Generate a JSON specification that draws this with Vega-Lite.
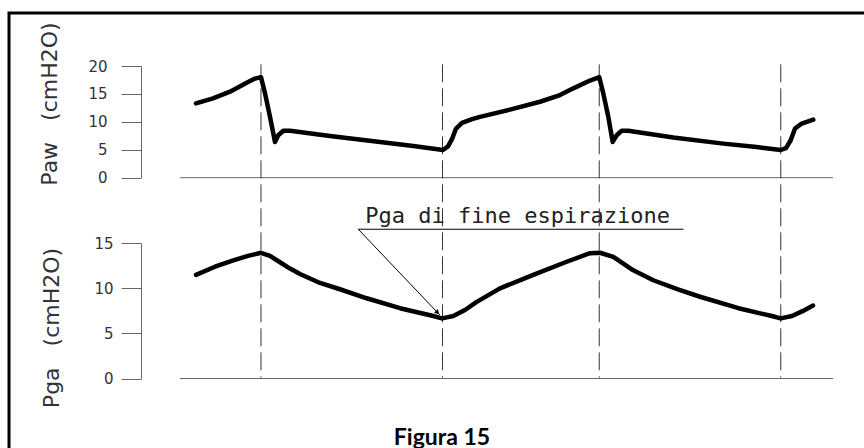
{
  "$schema": "https://vega.github.io/schema/vega-lite/v6.json",
  "width": 876,
  "height": 456,
  "autosize": {"type": "none"},
  "padding": {"left": 9, "top": 13, "right": -21, "bottom": -21},
  "background": "white",
  "config": {
    "view": {"stroke": "black", "strokeWidth": 3},
    "axisX": {"disable": true}
  },
  "title": {
    "text": "Figura 15",
    "orient": "bottom",
    "anchor": "middle",
    "offset": -24,
    "baseline": "alphabetic",
    "dx": -5,
    "font": "Lato",
    "fontWeight": "bold",
    "fontSize": 23,
    "color": "black"
  },
  "datasets": {
    "paw": [
      {"t": 2.45, "paw": 13.3}, {"t": 5.05, "paw": 14.2}, {"t": 7.66, "paw": 15.4},
      {"t": 10.21, "paw": 17.0}, {"t": 11.49, "paw": 17.75}, {"t": 12.4, "paw": 18.0},
      {"t": 13.02, "paw": 15.1}, {"t": 13.78, "paw": 10.9}, {"t": 14.55, "paw": 6.4},
      {"t": 15.05, "paw": 7.6}, {"t": 15.82, "paw": 8.4}, {"t": 16.85, "paw": 8.4},
      {"t": 22.97, "paw": 7.45}, {"t": 30.63, "paw": 6.4}, {"t": 35.73, "paw": 5.66},
      {"t": 40.28, "paw": 4.96}, {"t": 41.04, "paw": 5.6}, {"t": 41.65, "paw": 6.9},
      {"t": 42.27, "paw": 8.8}, {"t": 43.19, "paw": 9.8}, {"t": 44.72, "paw": 10.5},
      {"t": 45.94, "paw": 10.9}, {"t": 50.54, "paw": 12.2}, {"t": 55.13, "paw": 13.6},
      {"t": 58.19, "paw": 14.8}, {"t": 60.23, "paw": 16.0}, {"t": 62.79, "paw": 17.4},
      {"t": 64.21, "paw": 18.0}, {"t": 64.82, "paw": 15.1}, {"t": 65.59, "paw": 10.9},
      {"t": 66.26, "paw": 6.4}, {"t": 66.88, "paw": 7.6}, {"t": 67.64, "paw": 8.4},
      {"t": 68.65, "paw": 8.4}, {"t": 75.54, "paw": 7.2}, {"t": 83.2, "paw": 6.1},
      {"t": 88.31, "paw": 5.5}, {"t": 91.99, "paw": 4.96}, {"t": 92.8, "paw": 5.3},
      {"t": 93.52, "paw": 6.7}, {"t": 94.18, "paw": 8.8}, {"t": 95.21, "paw": 9.7},
      {"t": 96.98, "paw": 10.4}
    ],
    "pga": [
      {"t": 2.45, "pga": 11.5}, {"t": 5.36, "pga": 12.4}, {"t": 8.16, "pga": 13.1},
      {"t": 10.41, "pga": 13.6}, {"t": 12.4, "pga": 13.95}, {"t": 13.78, "pga": 13.6},
      {"t": 15.31, "pga": 12.9}, {"t": 16.85, "pga": 12.2}, {"t": 18.38, "pga": 11.6},
      {"t": 21.44, "pga": 10.6}, {"t": 24.5, "pga": 9.9}, {"t": 28.59, "pga": 8.9},
      {"t": 33.69, "pga": 7.8}, {"t": 38.79, "pga": 6.93}, {"t": 40.12, "pga": 6.67},
      {"t": 41.85, "pga": 6.93}, {"t": 43.64, "pga": 7.6}, {"t": 45.44, "pga": 8.5},
      {"t": 49.0, "pga": 10.0}, {"t": 54.1, "pga": 11.5}, {"t": 59.22, "pga": 12.95},
      {"t": 62.79, "pga": 13.9}, {"t": 64.32, "pga": 13.95}, {"t": 66.36, "pga": 13.5},
      {"t": 69.42, "pga": 12.0}, {"t": 72.48, "pga": 10.9}, {"t": 76.26, "pga": 9.9},
      {"t": 79.63, "pga": 9.07}, {"t": 85.53, "pga": 7.8}, {"t": 90.63, "pga": 6.93},
      {"t": 91.99, "pga": 6.67}, {"t": 93.72, "pga": 6.93}, {"t": 95.41, "pga": 7.5},
      {"t": 96.94, "pga": 8.1}
    ],
    "events": [{"t": 12.4}, {"t": 40.2}, {"t": 64.2}, {"t": 92.0}],
    "baseline": [{"t0": 0, "t1": 100, "v": 0}],
    "note": [
      {"t0": 27.3, "t1": 77.1, "y": 16.56, "tx": 39.8, "ty": 7.04, "ax": 39.36, "ay": 7.38,
       "label": "Pga di fine espirazione", "lx": 51.7, "ly": 17.3}
    ]
  },
  "layer": [
    {
      "layer": [
        {
          "data": {"name": "baseline"},
          "mark": {"type": "rule", "color": "#666", "strokeWidth": 1},
          "encoding": {
            "x": {"field": "t0", "type": "quantitative", "scale": {"domain": [0, 100], "range": [171, 824]}, "axis": null},
            "x2": {"field": "t1"},
            "y": {"field": "v", "type": "quantitative"}
          }
        },
        {
          "data": {"name": "events"},
          "mark": {"type": "rule", "color": "#333", "strokeWidth": 1, "strokeDash": [18, 6]},
          "encoding": {
            "x": {"field": "t", "type": "quantitative", "axis": null},
            "y": {"datum": 20.3},
            "y2": {"datum": -35.8}
          }
        },
        {
          "data": {"name": "paw"},
          "mark": {"type": "line", "color": "black", "strokeWidth": 4.5, "strokeCap": "round", "strokeJoin": "round"},
          "encoding": {
            "x": {"field": "t", "type": "quantitative", "axis": null},
            "y": {
              "field": "paw", "type": "quantitative",
              "scale": {"domain": [0, 20], "range": [164.7, 53], "nice": false, "zero": false},
              "axis": {
                "orient": "left", "offset": -132, "values": [0, 5, 10, 15, 20], "grid": false,
                "domainColor": "#666", "tickColor": "#666", "tickSize": 20, "labelPadding": 14,
                "labelFont": "DejaVu Sans", "labelFontSize": 15, "labelColor": "#333",
                "title": "Paw\u00a0\u00a0\u00a0(cmH2O)", "titleFont": "DejaVu Sans", "titleFontSize": 22,
                "titleFontWeight": "normal", "titleColor": "#333", "titlePadding": 26, "titleY": 90.5
              }
            }
          }
        }
      ]
    },
    {
      "layer": [
        {
          "data": {"name": "baseline"},
          "mark": {"type": "rule", "color": "#666", "strokeWidth": 1},
          "encoding": {
            "x": {"field": "t0", "type": "quantitative", "axis": null},
            "x2": {"field": "t1"},
            "y": {"field": "v", "type": "quantitative"}
          }
        },
        {
          "data": {"name": "pga"},
          "mark": {"type": "line", "color": "black", "strokeWidth": 4.5, "strokeCap": "round", "strokeJoin": "round"},
          "encoding": {
            "x": {"field": "t", "type": "quantitative", "axis": null},
            "y": {
              "field": "pga", "type": "quantitative",
              "scale": {"domain": [0, 15], "range": [365.5, 230.3], "nice": false, "zero": false},
              "axis": {
                "orient": "left", "offset": -132, "values": [0, 5, 10, 15], "grid": false,
                "domainColor": "#666", "tickColor": "#666", "tickSize": 20, "labelPadding": 8,
                "labelFont": "DejaVu Sans", "labelFontSize": 15, "labelColor": "#333",
                "title": "Pga\u00a0\u00a0\u00a0(cmH2O)", "titleFont": "DejaVu Sans", "titleFontSize": 22,
                "titleFontWeight": "normal", "titleColor": "#333", "titlePadding": 30, "titleY": 314.5
              }
            }
          }
        },
        {
          "data": {"name": "note"},
          "mark": {"type": "rule", "color": "black", "strokeWidth": 1},
          "encoding": {
            "x": {"field": "t0", "type": "quantitative", "axis": null},
            "x2": {"field": "t1"},
            "y": {"field": "y", "type": "quantitative"}
          }
        },
        {
          "data": {"name": "note"},
          "mark": {"type": "rule", "color": "black", "strokeWidth": 1},
          "encoding": {
            "x": {"field": "t0", "type": "quantitative", "axis": null},
            "x2": {"field": "tx"},
            "y": {"field": "y", "type": "quantitative"},
            "y2": {"field": "ty"}
          }
        },
        {
          "data": {"name": "note"},
          "mark": {"type": "point", "shape": "triangle", "filled": true, "color": "black", "size": 28, "angle": 136.4, "opacity": 1},
          "encoding": {
            "x": {"field": "ax", "type": "quantitative", "axis": null},
            "y": {"field": "ay", "type": "quantitative"}
          }
        },
        {
          "data": {"name": "note"},
          "mark": {"type": "text", "font": "DejaVu Sans Mono", "fontSize": 22, "align": "center", "baseline": "alphabetic", "color": "#222"},
          "encoding": {
            "x": {"field": "lx", "type": "quantitative", "axis": null},
            "y": {"field": "ly", "type": "quantitative"},
            "text": {"field": "label"}
          }
        }
      ]
    }
  ],
  "resolve": {"scale": {"y": "independent"}, "axis": {"y": "independent"}}
}
